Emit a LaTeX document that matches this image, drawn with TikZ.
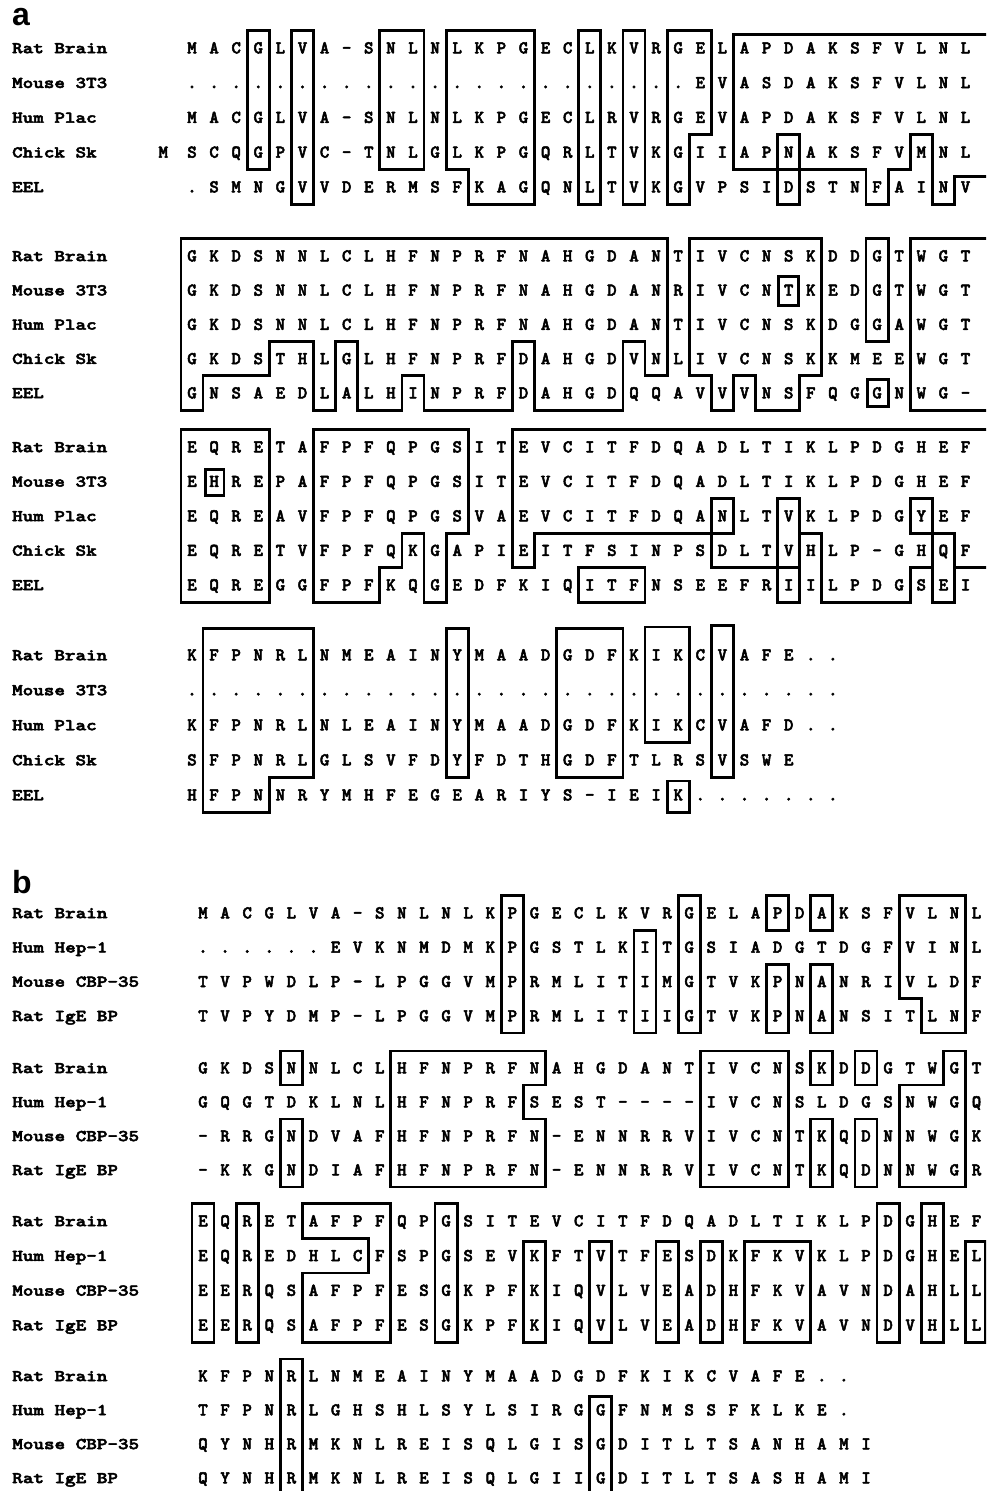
\documentclass[tikz,border=0pt]{standalone}
\usepackage{fontspec}
\newfontfamily\seqfont{lmmonolt10-bold.otf}[FakeBold=2.8]
\newfontfamily\panelfont{Liberation Sans}
\newcommand\seqrow[4]{% block, row, first column, residues
  \foreach \res [count=\k from #3] in {#4}
    \node[res] (#1r#2c\k) at (\k,#2) {\res};}
\tikzset{
  res/.style={font=\seqfont\fontsize{18}{18}\selectfont, inner sep=0pt,
    text height=10.8pt, text depth=0pt},
  lab/.style={font=\seqfont\fontsize{16.5}{16.5}\selectfont, inner sep=0pt, anchor=base west,
    xscale=1.22},
  box/.style={draw, line width=2.8pt},
  panel/.style={font=\panelfont\bfseries\fontsize{32}{32}\selectfont, inner sep=0pt, anchor=north west}
}
\begin{document}
\begin{tikzpicture}[x=1pt, y=-1pt]
\useasboundingbox (0,0) rectangle (986,1491);
\clip (0,0) rectangle (986,1491);

\node[panel] (pa) at (12,8) {a};
\node[panel] (pb) at (12,870) {b};

% panel a, block 1
\begin{scope}[shift={(169.9,13.25)}, x=22.1pt, y=-34.75pt]
  \node[lab] (a1l1) at (-7.15,1.15) {Rat Brain};
  \node[lab] (a1l2) at (-7.15,2.15) {Mouse 3T3};
  \node[lab] (a1l3) at (-7.15,3.15) {Hum Plac};
  \node[lab] (a1l4) at (-7.15,4.15) {Chick Sk};
  \node[lab] (a1l5) at (-7.15,5.15) {EEL};
  \seqrow{a1}{1}{1}{M,A,C,G,L,V,A,–,S,N,L,N,L,K,P,G,E,C,L,K,V,R,G,E,L,A,P,D,A,K,S,F,V,L,N,L}
  \seqrow{a1}{2}{1}{.,.,.,.,.,.,.,.,.,.,.,.,.,.,.,.,.,.,.,.,.,.,.,E,V,A,S,D,A,K,S,F,V,L,N,L}
  \seqrow{a1}{3}{1}{M,A,C,G,L,V,A,–,S,N,L,N,L,K,P,G,E,C,L,R,V,R,G,E,V,A,P,D,A,K,S,F,V,L,N,L}
  \node[res] (a1r4c0) at (-0.3,4) {M};
  \seqrow{a1}{4}{1}{S,C,Q,G,P,V,C,–,T,N,L,G,L,K,P,G,Q,R,L,T,V,K,G,I,I,A,P,N,A,K,S,F,V,M,N,L}
  \seqrow{a1}{5}{1}{.,S,M,N,G,V,V,D,E,R,M,S,F,K,A,G,Q,N,L,T,V,K,G,V,P,S,I,D,S,T,N,F,A,I,N,V}
  \draw[box] (3.5,.5) rectangle (4.5,4.5);
  \draw[box] (5.5,.5) rectangle (6.5,5.5);
  \draw[box] (9.5,.5) rectangle (11.5,4.5);
  \draw[box] (12.5,.5) -- (16.5,.5) -- (16.5,5.5) -- (13.5,5.5) -- (13.5,4.5) -- (12.5,4.5) -- cycle;
  \draw[box] (18.5,.5) rectangle (19.5,5.5);
  \draw[box] (20.5,.5) rectangle (21.5,5.5);
  \draw[box] (22.5,.5) -- (24.5,.5) -- (24.5,3.5) -- (23.5,3.5) -- (23.5,5.5) -- (22.5,5.5) -- cycle;
  \draw[box] (38,.6) -- (25.5,.6) -- (25.5,4.5) -- (31.5,4.5) -- (31.5,5.5) -- (32.5,5.5)
    -- (32.5,4.5) -- (33.5,4.5) -- (33.5,3.5) -- (34.5,3.5) -- (34.5,5.5) -- (35.5,5.5)
    -- (35.5,4.7) -- (38,4.7);
  \draw[box] (27.5,3.5) rectangle (28.5,5.5);
\end{scope}

% panel a, block 2
\begin{scope}[shift={(169.9,221.75)}, x=22.1pt, y=-34.25pt]
  \node[lab] (a2l1) at (-7.15,1.15) {Rat Brain};
  \node[lab] (a2l2) at (-7.15,2.15) {Mouse 3T3};
  \node[lab] (a2l3) at (-7.15,3.15) {Hum Plac};
  \node[lab] (a2l4) at (-7.15,4.15) {Chick Sk};
  \node[lab] (a2l5) at (-7.15,5.15) {EEL};
  \seqrow{a2}{1}{1}{G,K,D,S,N,N,L,C,L,H,F,N,P,R,F,N,A,H,G,D,A,N,T,I,V,C,N,S,K,D,D,G,T,W,G,T}
  \seqrow{a2}{2}{1}{G,K,D,S,N,N,L,C,L,H,F,N,P,R,F,N,A,H,G,D,A,N,R,I,V,C,N,T,K,E,D,G,T,W,G,T}
  \seqrow{a2}{3}{1}{G,K,D,S,N,N,L,C,L,H,F,N,P,R,F,N,A,H,G,D,A,N,T,I,V,C,N,S,K,D,G,G,A,W,G,T}
  \seqrow{a2}{4}{1}{G,K,D,S,T,H,L,G,L,H,F,N,P,R,F,D,A,H,G,D,V,N,L,I,V,C,N,S,K,K,M,E,E,W,G,T}
  \seqrow{a2}{5}{1}{G,N,S,A,E,D,L,A,L,H,I,N,P,R,F,D,A,H,G,D,Q,Q,A,V,V,V,N,S,F,Q,G,G,N,W,G,–}
  \draw[box] (0.5,.5) -- (22.5,.5) -- (22.5,4.5) -- (21.5,4.5) -- (21.5,3.5) -- (20.5,3.5)
    -- (20.5,5.5) -- (16.5,5.5) -- (16.5,3.5) -- (15.5,3.5) -- (15.5,5.5) -- (11.5,5.5)
    -- (11.5,4.5) -- (10.5,4.5) -- (10.5,5.5) -- (8.5,5.5) -- (8.5,3.5) -- (7.5,3.5)
    -- (7.5,5.5) -- (6.5,5.5) -- (6.5,3.5) -- (4.5,3.5) -- (4.5,4.5) -- (1.5,4.5)
    -- (1.5,5.5) -- (0.5,5.5) -- cycle;
  \draw[box] (23.5,.5) -- (29.5,.5) -- (29.5,4.5) -- (28.5,4.5) -- (28.5,5.5) -- (26.5,5.5)
    -- (26.5,4.5) -- (25.5,4.5) -- (25.5,5.5) -- (24.5,5.5) -- (24.5,4.5) -- (23.5,4.5) -- cycle;
  \draw[box] (27.55,1.6) rectangle (28.45,2.45);
  \draw[box] (31.5,.5) rectangle (32.5,3.5);
  \draw[box] (31.55,4.6) rectangle (32.5,5.4);
  \draw[box] (38,.5) -- (33.5,.5) -- (33.5,5.5) -- (38,5.5);
\end{scope}

% panel a, block 3
\begin{scope}[shift={(169.9,412.5)}, x=22.1pt, y=-34.5pt]
  \node[lab] (a3l1) at (-7.15,1.15) {Rat Brain};
  \node[lab] (a3l2) at (-7.15,2.15) {Mouse 3T3};
  \node[lab] (a3l3) at (-7.15,3.15) {Hum Plac};
  \node[lab] (a3l4) at (-7.15,4.15) {Chick Sk};
  \node[lab] (a3l5) at (-7.15,5.15) {EEL};
  \seqrow{a3}{1}{1}{E,Q,R,E,T,A,F,P,F,Q,P,G,S,I,T,E,V,C,I,T,F,D,Q,A,D,L,T,I,K,L,P,D,G,H,E,F}
  \seqrow{a3}{2}{1}{E,H,R,E,P,A,F,P,F,Q,P,G,S,I,T,E,V,C,I,T,F,D,Q,A,D,L,T,I,K,L,P,D,G,H,E,F}
  \seqrow{a3}{3}{1}{E,Q,R,E,A,V,F,P,F,Q,P,G,S,V,A,E,V,C,I,T,F,D,Q,A,N,L,T,V,K,L,P,D,G,Y,E,F}
  \seqrow{a3}{4}{1}{E,Q,R,E,T,V,F,P,F,Q,K,G,A,P,I,E,I,T,F,S,I,N,P,S,D,L,T,V,H,L,P,–,G,H,Q,F}
  \seqrow{a3}{5}{1}{E,Q,R,E,G,G,F,P,F,K,Q,G,E,D,F,K,I,Q,I,T,F,N,S,E,E,F,R,I,I,L,P,D,G,S,E,I}
  \draw[box] (.5,.5) rectangle (4.5,5.5);
  \draw[box] (1.6,1.65) rectangle (2.45,2.4);
  \draw[box] (6.5,.5) -- (13.5,.5) -- (13.5,3.5) -- (12.5,3.5) -- (12.5,5.5) -- (11.5,5.5)
    -- (11.5,3.5) -- (10.5,3.5) -- (10.5,4.5) -- (9.5,4.5) -- (9.5,5.5) -- (6.5,5.5) -- cycle;
  \draw[box] (38,.5) -- (15.5,.5) -- (15.5,4.5) -- (16.5,4.5) -- (16.5,3.5) -- (24.5,3.5)
    -- (24.5,4.5) -- (27.5,4.5) -- (27.5,2.5) -- (28.5,2.5) -- (28.5,3.5) -- (29.5,3.5)
    -- (29.5,5.5) -- (33.5,5.5) -- (33.5,4.5) -- (34.5,4.5) -- (34.5,3.5) -- (35.5,3.5)
    -- (35.5,4.5) -- (38,4.5);
  \draw[box] (24.5,2.5) rectangle (25.5,3.5);
  \draw[box] (27.5,2.5) rectangle (28.5,4.5);
  \draw[box] (27.5,4.5) rectangle (28.5,5.5);
  \draw[box] (33.5,2.5) rectangle (34.5,3.5);
  \draw[box] (34.5,3.5) rectangle (35.5,5.5);
  \draw[box] (18.5,4.5) rectangle (21.5,5.5);
\end{scope}

% panel a, block 4
\begin{scope}[shift={(169.9,620)}, x=22.1pt, y=-35pt]
  \node[lab] (a4l1) at (-7.15,1.15) {Rat Brain};
  \node[lab] (a4l2) at (-7.15,2.15) {Mouse 3T3};
  \node[lab] (a4l3) at (-7.15,3.15) {Hum Plac};
  \node[lab] (a4l4) at (-7.15,4.15) {Chick Sk};
  \node[lab] (a4l5) at (-7.15,5.15) {EEL};
  \seqrow{a4}{1}{1}{K,F,P,N,R,L,N,M,E,A,I,N,Y,M,A,A,D,G,D,F,K,I,K,C,V,A,F,E,.,.}
  \seqrow{a4}{2}{1}{.,.,.,.,.,.,.,.,.,.,.,.,.,.,.,.,.,.,.,.,.,.,.,.,.,.,.,.,.,.}
  \seqrow{a4}{3}{1}{K,F,P,N,R,L,N,L,E,A,I,N,Y,M,A,A,D,G,D,F,K,I,K,C,V,A,F,D,.,.}
  \seqrow{a4}{4}{1}{S,F,P,N,R,L,G,L,S,V,F,D,Y,F,D,T,H,G,D,F,T,L,R,S,V,S,W,E}
  \seqrow{a4}{5}{1}{H,F,P,N,N,R,Y,M,H,F,E,G,E,A,R,I,Y,S,–,I,E,I,K,.,.,.,.,.,.,.}
  \draw[box] (1.5,.25) -- (6.5,.25) -- (6.5,4.5) -- (4.5,4.5) -- (4.5,5.5) -- (1.5,5.5) -- cycle;
  \draw[box] (12.5,.25) rectangle (13.5,4.5);
  \draw[box] (17.5,.25) rectangle (20.5,4.5);
  \draw[box] (21.5,.2) rectangle (23.5,3.5);
  \draw[box] (24.5,.15) rectangle (25.5,4.5);
  \draw[box] (22.5,4.6) rectangle (23.5,5.5);
\end{scope}

% panel b, block 1
\begin{scope}[shift={(180.9,878.7)}, x=22.1pt, y=-34.3pt]
  \node[lab] (b1l1) at (-7.64,1.15) {Rat Brain};
  \node[lab] (b1l2) at (-7.64,2.15) {Hum Hep-1};
  \node[lab] (b1l3) at (-7.64,3.15) {Mouse CBP-35};
  \node[lab] (b1l4) at (-7.64,4.15) {Rat IgE BP};
  \seqrow{b1}{1}{1}{M,A,C,G,L,V,A,–,S,N,L,N,L,K,P,G,E,C,L,K,V,R,G,E,L,A,P,D,A,K,S,F,V,L,N,L}
  \seqrow{b1}{2}{1}{.,.,.,.,.,.,E,V,K,N,M,D,M,K,P,G,S,T,L,K,I,T,G,S,I,A,D,G,T,D,G,F,V,I,N,L}
  \seqrow{b1}{3}{1}{T,V,P,W,D,L,P,–,L,P,G,G,V,M,P,R,M,L,I,T,I,M,G,T,V,K,P,N,A,N,R,I,V,L,D,F}
  \seqrow{b1}{4}{1}{T,V,P,Y,D,M,P,–,L,P,G,G,V,M,P,R,M,L,I,T,I,I,G,T,V,K,P,N,A,N,S,I,T,L,N,F}
  \draw[box] (14.5,.5) rectangle (15.5,4.5);
  \draw[box] (20.5,1.5) rectangle (21.5,4.5);
  \draw[box] (22.5,.5) rectangle (23.5,4.5);
  \draw[box] (26.5,.5) rectangle (27.5,1.5);
  \draw[box] (26.5,2.5) rectangle (27.5,4.5);
  \draw[box] (28.5,.5) rectangle (29.5,1.5);
  \draw[box] (28.5,2.5) rectangle (29.5,4.5);
  \draw[box] (32.5,.5) -- (35.5,.5) -- (35.5,4.5) -- (33.5,4.5) -- (33.5,3.5) -- (32.5,3.5) -- cycle;
\end{scope}

% panel b, block 2
\begin{scope}[shift={(180.9,1034)}, x=22.1pt, y=-34pt]
  \node[lab] (b2l1) at (-7.64,1.15) {Rat Brain};
  \node[lab] (b2l2) at (-7.64,2.15) {Hum Hep-1};
  \node[lab] (b2l3) at (-7.64,3.15) {Mouse CBP-35};
  \node[lab] (b2l4) at (-7.64,4.15) {Rat IgE BP};
  \seqrow{b2}{1}{1}{G,K,D,S,N,N,L,C,L,H,F,N,P,R,F,N,A,H,G,D,A,N,T,I,V,C,N,S,K,D,D,G,T,W,G,T}
  \seqrow{b2}{2}{1}{G,Q,G,T,D,K,L,N,L,H,F,N,P,R,F,S,E,S,T,–,–,–,–,I,V,C,N,S,L,D,G,S,N,W,G,Q}
  \seqrow{b2}{3}{1}{–,R,R,G,N,D,V,A,F,H,F,N,P,R,F,N,–,E,N,N,R,R,V,I,V,C,N,T,K,Q,D,N,N,W,G,K}
  \seqrow{b2}{4}{1}{–,K,K,G,N,D,I,A,F,H,F,N,P,R,F,N,–,E,N,N,R,R,V,I,V,C,N,T,K,Q,D,N,N,W,G,R}
  \draw[box] (4.5,.5) rectangle (5.5,1.5);
  \draw[box] (4.5,2.5) rectangle (5.5,4.5);
  \draw[box] (9.5,.5) -- (16.5,.5) -- (16.5,1.5) -- (15.5,1.5) -- (15.5,2.5) -- (16.5,2.5)
    -- (16.5,4.5) -- (9.5,4.5) -- cycle;
  \draw[box] (23.5,.5) rectangle (27.5,4.5);
  \draw[box] (28.5,.5) rectangle (29.5,1.5);
  \draw[box] (28.5,2.5) rectangle (29.5,4.5);
  \draw[box] (30.5,.5) rectangle (31.5,1.5);
  \draw[box] (30.5,2.5) rectangle (31.5,4.5);
  \draw[box] (32.5,1.5) -- (34.5,1.5) -- (34.5,.5) -- (35.5,.5) -- (35.5,4.5) -- (32.5,4.5) -- cycle;
\end{scope}

% panel b, block 3
\begin{scope}[shift={(180.9,1186.3)}, x=22.1pt, y=-34.7pt]
  \node[lab] (b3l1) at (-7.64,1.15) {Rat Brain};
  \node[lab] (b3l2) at (-7.64,2.15) {Hum Hep-1};
  \node[lab] (b3l3) at (-7.64,3.15) {Mouse CBP-35};
  \node[lab] (b3l4) at (-7.64,4.15) {Rat IgE BP};
  \seqrow{b3}{1}{1}{E,Q,R,E,T,A,F,P,F,Q,P,G,S,I,T,E,V,C,I,T,F,D,Q,A,D,L,T,I,K,L,P,D,G,H,E,F}
  \seqrow{b3}{2}{1}{E,Q,R,E,D,H,L,C,F,S,P,G,S,E,V,K,F,T,V,T,F,E,S,D,K,F,K,V,K,L,P,D,G,H,E,L}
  \seqrow{b3}{3}{1}{E,E,R,Q,S,A,F,P,F,E,S,G,K,P,F,K,I,Q,V,L,V,E,A,D,H,F,K,V,A,V,N,D,A,H,L,L}
  \seqrow{b3}{4}{1}{E,E,R,Q,S,A,F,P,F,E,S,G,K,P,F,K,I,Q,V,L,V,E,A,D,H,F,K,V,A,V,N,D,V,H,L,L}
  \draw[box] (.5,.5) rectangle (1.5,4.5);
  \draw[box] (2.5,.5) rectangle (3.5,4.5);
  \draw[box] (5.5,.5) -- (9.5,.5) -- (9.5,4.5) -- (5.5,4.5) -- (5.5,2.5) -- (8.5,2.5)
    -- (8.5,1.5) -- (5.5,1.5) -- cycle;
  \draw[box] (11.5,.5) rectangle (12.5,4.5);
  \draw[box] (15.5,1.6) rectangle (16.5,4.5);
  \draw[box] (18.5,1.6) rectangle (19.5,4.5);
  \draw[box] (21.5,1.6) rectangle (22.5,4.5);
  \draw[box] (23.5,1.6) rectangle (24.5,4.5);
  \draw[box] (25.5,1.6) rectangle (28.5,4.5);
  \draw[box] (31.5,.5) rectangle (32.5,4.5);
  \draw[box] (33.5,.5) rectangle (34.5,4.5);
  \draw[box] (35.5,1.6) rectangle (36.4,4.5);
\end{scope}

% panel b, block 4
\begin{scope}[shift={(180.9,1342)}, x=22.1pt, y=-34pt]
  \node[lab] (b4l1) at (-7.64,1.15) {Rat Brain};
  \node[lab] (b4l2) at (-7.64,2.15) {Hum Hep-1};
  \node[lab] (b4l3) at (-7.64,3.15) {Mouse CBP-35};
  \node[lab] (b4l4) at (-7.64,4.15) {Rat IgE BP};
  \seqrow{b4}{1}{1}{K,F,P,N,R,L,N,M,E,A,I,N,Y,M,A,A,D,G,D,F,K,I,K,C,V,A,F,E,.,.}
  \seqrow{b4}{2}{1}{T,F,P,N,R,L,G,H,S,H,L,S,Y,L,S,I,R,G,G,F,N,M,S,S,F,K,L,K,E,.}
  \seqrow{b4}{3}{1}{Q,Y,N,H,R,M,K,N,L,R,E,I,S,Q,L,G,I,S,G,D,I,T,L,T,S,A,N,H,A,M,I}
  \seqrow{b4}{4}{1}{Q,Y,N,H,R,M,K,N,L,R,E,I,S,Q,L,G,I,I,G,D,I,T,L,T,S,A,S,H,A,M,I}
  \draw[box] (4.5,.5) rectangle (5.5,4.6);
  \draw[box] (18.5,1.6) rectangle (19.5,4.6);
\end{scope}
\end{tikzpicture}
\end{document}
